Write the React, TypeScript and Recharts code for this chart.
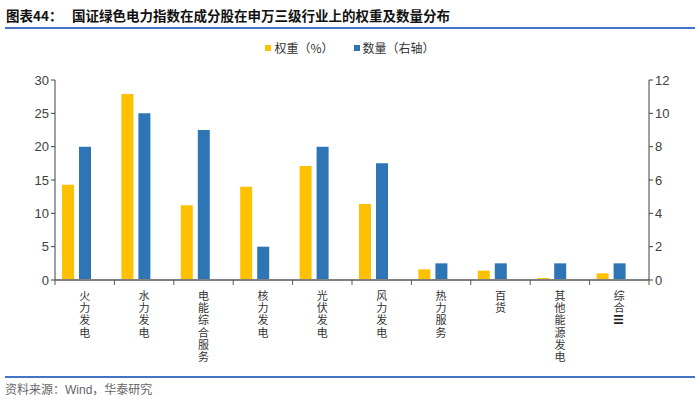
import React from 'react';
import { BarChart, Bar, XAxis, YAxis } from 'recharts';

// 申万三级行业
const categories = ['火力发电', '水力发电', '电能综合服务', '核力发电', '光伏发电', '风力发电', '热力服务', '百货', '其他能源发电', '综合Ⅲ'];
// 权重（%）
const weights = [14.3, 27.9, 11.2, 14.0, 17.1, 11.4, 1.6, 1.4, 0.3, 1.0];
// 数量（右轴）
const counts = [8, 10, 9, 2, 8, 7, 1, 1, 1, 1];
const leftTicks = [0, 5, 10, 15, 20, 25, 30];
const rightTicks = [0, 2, 4, 6, 8, 10, 12];

const data = categories.map((name, i) => ({ name, weight: weights[i], count: counts[i] }));

const YELLOW = '#FFC000';
const BLUE = '#2E75B6';
const CJK = '"Noto Sans CJK SC", sans-serif';
const NUM = '"Liberation Sans", Arial, sans-serif';

const PLOT_LEFT = 55;
const PLOT_RIGHT = 649;
const HALF_BAND = (PLOT_RIGHT - PLOT_LEFT) / categories.length / 2;

// category names are written top to bottom, one character under another
const VerticalTick = ({ x, y, payload, index }: any) => {
  const chars = Array.from(String(payload.value));
  return (
    <g>
      <line x1={x - HALF_BAND} y1={y - 8} x2={x - HALF_BAND} y2={y - 3} stroke="#555" strokeWidth={1} />
      {index === categories.length - 1 && (
        <line x1={x + HALF_BAND} y1={y - 8} x2={x + HALF_BAND} y2={y - 3} stroke="#555" strokeWidth={1} />
      )}
      <text x={x} y={y + 2} fontSize={11} fill="#333" fontFamily={CJK}
        style={{ writingMode: 'vertical-rl', letterSpacing: 1.2 }}>
        {chars.map((c, i) =>
          c === 'Ⅲ'
            ? <tspan key={i} fontWeight="bold" fill="#222" style={{ textOrientation: 'sideways' }}>{c}</tspan>
            : <tspan key={i}>{c}</tspan>
        )}
      </text>
    </g>
  );
};

export default function App() {
  return (
    <div style={{ position: 'absolute', left: 0, top: 0, width: 700, height: 400, background: '#fff' }}>
      <div style={{ position: 'absolute', left: 6, top: 5, fontFamily: CJK, fontWeight: 'bold', fontSize: 13.5, color: '#111', whiteSpace: 'nowrap' }}>
        图表44：
      </div>
      <div style={{ position: 'absolute', left: 72, top: 5, fontFamily: CJK, fontWeight: 'bold', fontSize: 13.5, color: '#111', whiteSpace: 'nowrap' }}>
        国证绿色电力指数在成分股在申万三级行业上的权重及数量分布
      </div>
      <div style={{ position: 'absolute', left: 5, top: 27, width: 690, height: 2, background: '#4472C4' }} />

      <div style={{ position: 'absolute', top: 39, left: 0, width: 700, display: 'flex', justifyContent: 'center', fontFamily: CJK, fontSize: 12, color: '#333' }}>
        <span style={{ display: 'flex', alignItems: 'center', marginRight: 20 }}>
          <span style={{ width: 6, height: 6, background: YELLOW, marginRight: 3 }} />权重（%）
        </span>
        <span style={{ display: 'flex', alignItems: 'center' }}>
          <span style={{ width: 6, height: 6, background: BLUE, marginRight: 3 }} />数量（右轴）
        </span>
      </div>

      <BarChart width={700} height={400} data={data} margin={{ top: 80, right: 0, bottom: 0, left: 0 }}
        barSize={12} barGap={5} barCategoryGap={6}>
        <XAxis dataKey="name" xAxisId={0} height={120} interval={0} tickLine={false}
          axisLine={{ stroke: '#808080', strokeWidth: 2 }} tick={<VerticalTick />} />
        <YAxis yAxisId="left" orientation="left" width={55} domain={[0, 30]} ticks={leftTicks}
          axisLine={{ stroke: '#404040' }} tickLine={{ stroke: '#404040' }} tickSize={4}
          tick={{ fill: '#404040', fontSize: 13, fontFamily: NUM }} />
        <YAxis yAxisId="right" orientation="right" width={51} domain={[0, 12]} ticks={rightTicks}
          axisLine={{ stroke: '#404040' }} tickLine={{ stroke: '#404040' }} tickSize={4}
          tick={{ fill: '#404040', fontSize: 13, fontFamily: NUM }} />
        <Bar yAxisId="left" dataKey="weight" fill={YELLOW} isAnimationActive={false} />
        <Bar yAxisId="right" dataKey="count" fill={BLUE} isAnimationActive={false} />
        {/* empty third slot, keeps the two bars left of the category centre */}
        <Bar yAxisId="right" dataKey="blank" fill="none" isAnimationActive={false} legendType="none" />
      </BarChart>

      <div style={{ position: 'absolute', left: 5, top: 376, width: 690, height: 2, background: '#4472C4' }} />
      <div style={{ position: 'absolute', left: 5, top: 380, fontFamily: CJK, fontSize: 12, color: '#666' }}>
        资料来源：<span style={{ fontFamily: NUM }}>Wind</span>，华泰研究
      </div>
    </div>
  );
}
